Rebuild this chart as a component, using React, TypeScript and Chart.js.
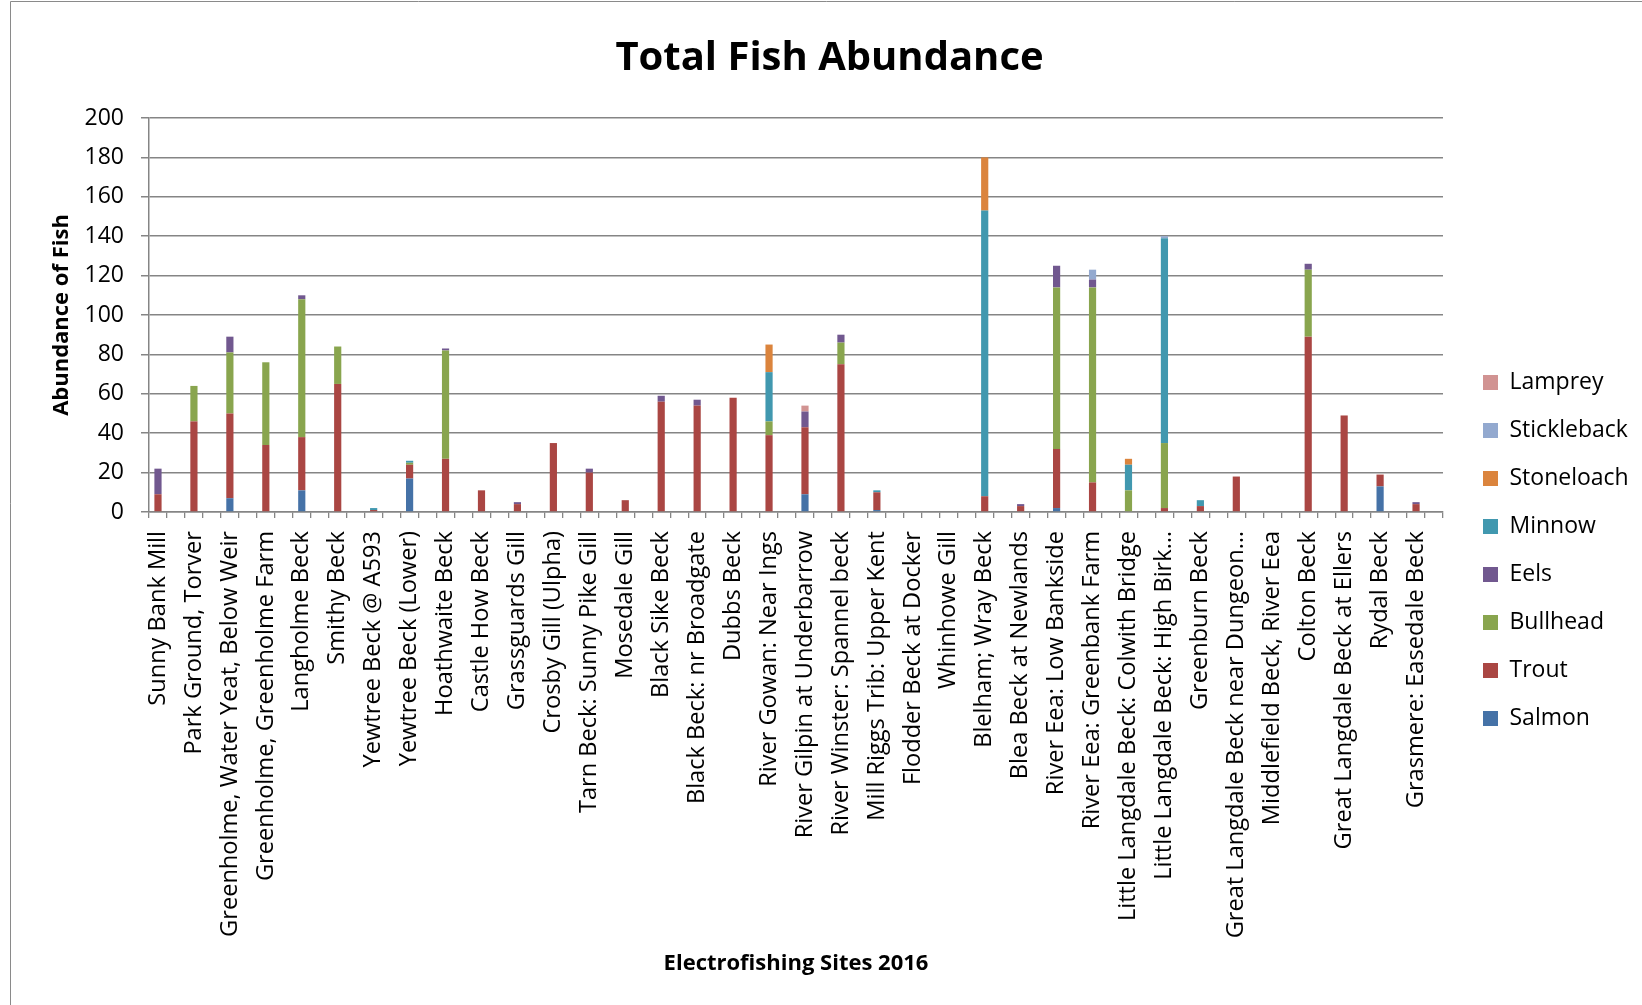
import React, { useEffect, useRef } from 'react';
import { Chart, registerables } from 'chart.js';

Chart.register(...registerables);

const sites = [
  'Sunny Bank Mill',
  'Park Ground, Torver',
  'Greenholme, Water Yeat, Below Weir',
  'Greenholme, Greenholme Farm',
  'Langholme Beck',
  'Smithy Beck',
  'Yewtree Beck @ A593',
  'Yewtree Beck (Lower)',
  'Hoathwaite Beck',
  'Castle How Beck',
  'Grassguards Gill',
  'Crosby Gill (Ulpha)',
  'Tarn Beck: Sunny Pike Gill',
  'Mosedale Gill',
  'Black Sike Beck',
  'Black Beck: nr Broadgate',
  'Dubbs Beck',
  'River Gowan: Near Ings',
  'River Gilpin at Underbarrow',
  'River Winster: Spannel beck',
  'Mill Riggs Trib: Upper Kent',
  'Flodder Beck at Docker',
  'Whinhowe Gill',
  'Blelham; Wray Beck',
  'Blea Beck at Newlands',
  'River Eea: Low Bankside',
  'River Eea: Greenbank Farm',
  'Little Langdale Beck: Colwith Bridge',
  'Little Langdale Beck: High Birk…',
  'Greenburn Beck',
  'Great Langdale Beck near Dungeon…',
  'Middlefield Beck, River Eea',
  'Colton Beck',
  'Great Langdale Beck at Ellers',
  'Rydal Beck',
  'Grasmere: Easedale Beck',
];

const salmon = [0, 0, 7, 0, 11, 0, 0, 17, 0, 0, 0, 0, 0, 0, 0, 0, 0, 0, 9, 0, 1, 0, 0, 0, 0, 2, 0, 0, 0, 0, 0, 0, 0, 0, 13, 0];
const trout = [9, 46, 43, 34, 27, 65, 1, 7, 27, 11, 4, 35, 20, 6, 56, 54, 58, 39, 34, 75, 9, 0, 0, 8, 3, 30, 15, 0, 2, 3, 18, 0, 89, 49, 6, 4];
const bullhead = [0, 18, 31, 42, 70, 19, 0, 1, 55, 0, 0, 0, 0, 0, 0, 0, 0, 7, 0, 11, 0, 0, 0, 0, 0, 82, 99, 11, 33, 0, 0, 0, 34, 0, 0, 0];
const eels = [13, 0, 8, 0, 2, 0, 0, 0, 1, 0, 1, 0, 2, 0, 3, 3, 0, 0, 8, 4, 0, 0, 0, 0, 1, 11, 4, 0, 0, 0, 0, 0, 3, 0, 0, 1];
const minnow = [0, 0, 0, 0, 0, 0, 1, 1, 0, 0, 0, 0, 0, 0, 0, 0, 0, 25, 0, 0, 1, 0, 0, 145, 0, 0, 0, 13, 104, 3, 0, 0, 0, 0, 0, 0];
const stoneloach = [0, 0, 0, 0, 0, 0, 0, 0, 0, 0, 0, 0, 0, 0, 0, 0, 0, 14, 0, 0, 0, 0, 0, 27, 0, 0, 0, 3, 0, 0, 0, 0, 0, 0, 0, 0];
const stickleback = [0, 0, 0, 0, 0, 0, 0, 0, 0, 0, 0, 0, 0, 0, 0, 0, 0, 0, 0, 0, 0, 0, 0, 0, 0, 0, 5, 0, 1, 0, 0, 0, 0, 0, 0, 0];
const lamprey = [0, 0, 0, 0, 0, 0, 0, 0, 0, 0, 0, 0, 0, 0, 0, 0, 0, 0, 3, 0, 0, 0, 0, 0, 0, 0, 0, 0, 0, 0, 0, 0, 0, 0, 0, 0];

const seriesNames = ['Salmon', 'Trout', 'Bullhead', 'Eels', 'Minnow', 'Stoneloach', 'Stickleback', 'Lamprey'];
const seriesValues = [salmon, trout, bullhead, eels, minnow, stoneloach, stickleback, lamprey];
const seriesColors = ['#4572A7', '#AA4643', '#89A54E', '#71588F', '#4198AF', '#DB843D', '#93A9CF', '#D19392'];

const chartTitle = 'Total Fish Abundance';
const xTitle = 'Electrofishing Sites 2016';
const yTitle = 'Abundance of Fish';
const yMin = 0;
const yMax = 200;
const yStep = 20;

const W = 1642;
const H = 1005;
const FONT = "'Open Sans', 'Noto Sans', sans-serif";
const GRID = '#858585';

// each site is followed by an empty spacer category
const labels: string[] = [];
sites.forEach((s) => {
  labels.push(s);
  labels.push('');
});
const spread = (arr: number[]) => {
  const out: (number | null)[] = [];
  arr.forEach((v) => {
    out.push(v);
    out.push(null);
  });
  return out;
};

const framePlugin = {
  id: 'frame',
  beforeDraw(chart: any) {
    const { ctx } = chart;
    ctx.save();
    ctx.fillStyle = '#ffffff';
    ctx.fillRect(0, 0, chart.width, chart.height);
    ctx.strokeStyle = '#8a8a8a';
    ctx.lineWidth = 1;
    ctx.beginPath();
    ctx.moveTo(10.5, chart.height);
    ctx.lineTo(10.5, 1.5);
    ctx.lineTo(chart.width, 1.5);
    ctx.stroke();
    ctx.restore();
  },
};

const legendPlace = {
  id: 'legendPlace',
  afterLayout(chart: any) {
    const lg = chart.legend;
    if (!lg) return;
    const w = lg.width;
    lg.left = 1458;
    lg.right = 1458 + w;
    lg.top = 346;
    lg.bottom = 1000;
  },
};

export default function App() {
  const ref = useRef<HTMLCanvasElement | null>(null);
  useEffect(() => {
    if (!ref.current) return;
    const chart = new Chart(ref.current, {
      type: 'bar',
      data: {
        labels,
        datasets: seriesNames.map((name, i) => ({
          label: name,
          data: spread(seriesValues[i]),
          backgroundColor: seriesColors[i],
          borderWidth: 0,
          barPercentage: 0.4,
          categoryPercentage: 1,
        })),
      },
      options: {
        responsive: false,
        animation: false,
        layout: { padding: { left: 46, right: 29, top: 0, bottom: 0 } },
        plugins: {
          title: {
            display: true,
            text: chartTitle,
            color: '#000',
            font: { family: FONT, size: 40, weight: 'bold' },
            padding: { top: 35, bottom: 35 },
          },
          legend: {
            position: 'right',
            align: 'start',
            reverse: true,
            maxWidth: 170,
            labels: {
              boxWidth: 15,
              boxHeight: 15,
              padding: 25,
              color: '#000',
              font: { family: FONT, size: 23 },
            },
          },
          tooltip: { enabled: false },
        },
        scales: {
          x: {
            stacked: true,
            grid: {
              offset: true,
              drawOnChartArea: false,
              drawTicks: true,
              tickLength: 6,
              color: GRID,
              lineWidth: 1.3,
            },
            border: { color: GRID, width: 1.5 },
            ticks: {
              autoSkip: false,
              minRotation: 90,
              maxRotation: 90,
              padding: 13,
              color: '#000',
              font: { family: FONT, size: 23.6 },
            },
            title: {
              display: true,
              text: xTitle,
              color: '#000',
              font: { family: FONT, size: 22, weight: 'bold' },
              padding: { top: 4, bottom: 28 },
            },
            afterFit: (scale: any) => {
              scale.height = H - 512;
            },
          },
          y: {
            stacked: true,
            min: yMin,
            max: yMax,
            grid: { color: GRID, tickLength: 8, lineWidth: 1.5 },
            border: { color: GRID, width: 1.5 },
            ticks: {
              stepSize: yStep,
              padding: 17,
              color: '#000',
              font: { family: FONT, size: 23 },
            },
            title: {
              display: true,
              text: yTitle,
              color: '#000',
              font: { family: FONT, size: 22, weight: 'bold' },
              padding: { top: 3, bottom: 0 },
            },
            afterFit: (scale: any) => {
              scale.width = 149 - 46;
            },
          },
        },
      },
      plugins: [framePlugin, legendPlace],
    });
    return () => chart.destroy();
  }, []);
  return (
    <div style={{ position: 'fixed', left: 0, top: 0, width: W, height: H, overflow: 'hidden', background: '#fff' }}>
      <canvas ref={ref} width={W} height={H} style={{ display: 'block', width: W, height: H }} />
    </div>
  );
}
